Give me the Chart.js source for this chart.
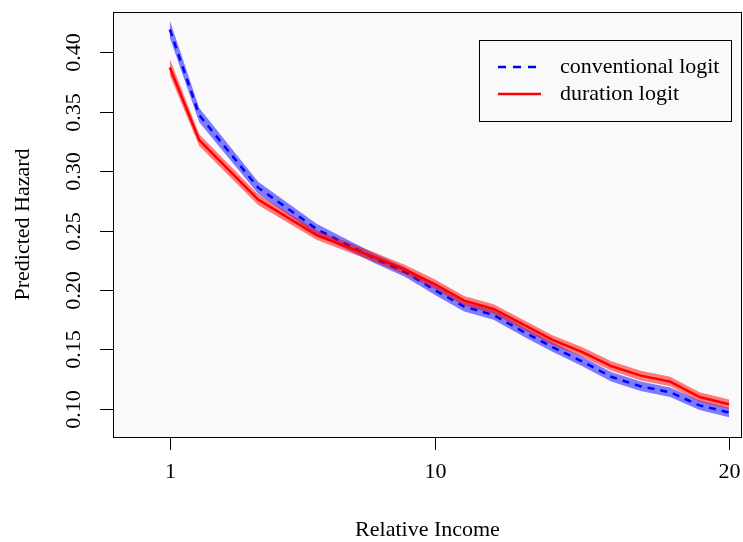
<!DOCTYPE html>
<html>
<head>
<meta charset="utf-8">
<script src="https://cdn.jsdelivr.net/npm/chart.js@4/dist/chart.umd.min.js"></script>
<style>
  html, body { margin: 0; padding: 0; background: #fff; }
  #wrap { width: 743px; height: 542px; }
</style>
</head>
<body>
<div id="wrap"><canvas id="hazardChart"></canvas></div>
<script>
// relative income values where the curves were evaluated
const incomeX = [1, 2, 4, 6, 8, 9, 10, 11, 12, 13, 14, 15, 16, 17, 18, 19, 20];

// conventional logit (blue, dashed) with band
const convFit  = [0.419, 0.347, 0.286, 0.251, 0.226, 0.215, 0.200, 0.186, 0.179, 0.165, 0.152, 0.140, 0.127, 0.119, 0.114, 0.103, 0.097];
const convLow  = [0.412, 0.341, 0.281, 0.2465, 0.222, 0.211, 0.196, 0.182, 0.175, 0.161, 0.148, 0.136, 0.123, 0.115, 0.110, 0.099, 0.093];
const convHigh = [0.4265, 0.353, 0.291, 0.2555, 0.230, 0.219, 0.204, 0.190, 0.183, 0.169, 0.156, 0.144, 0.131, 0.123, 0.118, 0.107, 0.101];

// duration logit (red, solid) with band
const durFit  = [0.387, 0.326, 0.276, 0.246, 0.227, 0.217, 0.205, 0.191, 0.184, 0.171, 0.158, 0.148, 0.136, 0.128, 0.123, 0.110, 0.104];
const durLow  = [0.3805, 0.321, 0.2715, 0.242, 0.223, 0.213, 0.201, 0.187, 0.180, 0.167, 0.154, 0.144, 0.132, 0.124, 0.119, 0.106, 0.100];
const durHigh = [0.3945, 0.331, 0.2805, 0.250, 0.231, 0.221, 0.209, 0.195, 0.188, 0.175, 0.162, 0.152, 0.140, 0.132, 0.127, 0.114, 0.108];

const xTicks = [1, 10, 20];
const yTicks = [0.10, 0.15, 0.20, 0.25, 0.30, 0.35, 0.40];
const legendLabels = ["conventional logit", "duration logit"];

const FONT = "22px 'Liberation Serif', 'DejaVu Serif', serif";

function pts(ys) {
  return incomeX.map((x, i) => ({ x: x, y: ys[i] }));
}

// draws box, axes, titles and legend the R way
const rStylePlugin = {
  id: "rStyle",
  beforeDraw(chart) {
    const { ctx, chartArea: a } = chart;
    ctx.save();
    ctx.fillStyle = "#fff";
    ctx.fillRect(0, 0, chart.width, chart.height);
    ctx.fillStyle = "#f9f9f9";
    ctx.fillRect(a.left, a.top, a.right - a.left, a.bottom - a.top);
    ctx.restore();
  },
  afterDraw(chart) {
    const { ctx, chartArea: a } = chart;
    const xs = chart.scales.x, ys = chart.scales.y;
    ctx.save();
    ctx.strokeStyle = "#000";
    ctx.lineWidth = 1;
    ctx.strokeRect(a.left + 0.5, a.top + 0.5, a.right - a.left - 1, a.bottom - a.top);

    ctx.fillStyle = "#000";
    ctx.font = FONT;

    // x ticks
    ctx.textAlign = "center";
    ctx.textBaseline = "middle";
    xTicks.forEach(v => {
      const px = Math.round(xs.getPixelForValue(v)) + 0.5;
      ctx.beginPath();
      ctx.moveTo(px, a.bottom);
      ctx.lineTo(px, a.bottom + 13);
      ctx.stroke();
      ctx.fillText(String(v), px, a.bottom + 35);
    });

    // y ticks, labels rotated like R
    yTicks.forEach(v => {
      const py = Math.round(ys.getPixelForValue(v)) + 0.5;
      ctx.beginPath();
      ctx.moveTo(a.left - 13, py);
      ctx.lineTo(a.left, py);
      ctx.stroke();
      ctx.save();
      ctx.translate(a.left - 39, py);
      ctx.rotate(-Math.PI / 2);
      ctx.fillText(v.toFixed(2), 0, 0);
      ctx.restore();
    });

    // axis titles
    ctx.fillText("Relative Income", (a.left + a.right) / 2, 530);
    ctx.save();
    ctx.translate(23, (a.top + a.bottom) / 2);
    ctx.rotate(-Math.PI / 2);
    ctx.fillText("Predicted Hazard", 0, 0);
    ctx.restore();

    // legend
    const bx = 479.5, by = 40.5, bw = 252, bh = 81;
    ctx.fillStyle = "#f9f9f9";
    ctx.fillRect(bx, by, bw, bh);
    ctx.strokeRect(bx, by, bw, bh);
    const rows = [
      { y: 67, color: "#0000ff", dash: [8, 7] },
      { y: 94, color: "#ff0000", dash: [] }
    ];
    rows.forEach((r, i) => {
      ctx.strokeStyle = r.color;
      ctx.lineWidth = 2.5;
      ctx.setLineDash(r.dash);
      ctx.beginPath();
      ctx.moveTo(498, r.y);
      ctx.lineTo(541, r.y);
      ctx.stroke();
      ctx.setLineDash([]);
      ctx.fillStyle = "#000";
      ctx.textAlign = "left";
      ctx.fillText(legendLabels[i], 560, r.y);
    });
    ctx.restore();
  }
};

const bandStyle = { borderWidth: 0, pointRadius: 0, tension: 0 };

new Chart(document.getElementById("hazardChart"), {
  type: "line",
  data: {
    datasets: [
      // index order is reversed when drawn: blue band, blue line, red band, red line
      { label: legendLabels[1], data: pts(durFit), borderColor: "#ff0000", borderWidth: 2.5,
        pointRadius: 0, fill: false, tension: 0 },
      { data: pts(durHigh), ...bandStyle, fill: "+1", backgroundColor: "rgba(255,0,0,0.5)" },
      { data: pts(durLow), ...bandStyle, fill: false },
      { label: legendLabels[0], data: pts(convFit), borderColor: "#0000ff", borderWidth: 2.5,
        borderDash: [7, 6], pointRadius: 0, fill: false, tension: 0 },
      { data: pts(convHigh), ...bandStyle, fill: "+1", backgroundColor: "rgba(0,0,255,0.5)" },
      { data: pts(convLow), ...bandStyle, fill: false }
    ]
  },
  options: {
    responsive: true,
    maintainAspectRatio: false,
    animation: false,
    layout: { padding: { left: 113, top: 12, right: 1, bottom: 105 } },
    scales: {
      x: { type: "linear", min: -0.93, max: 20.44, display: false },
      y: { type: "linear", min: 0.0764, max: 0.4337, display: false }
    },
    plugins: {
      legend: { display: false },
      tooltip: { enabled: false },
      filler: { drawTime: "beforeDatasetDraw" }
    }
  },
  plugins: [rStylePlugin]
});
</script>
</body>
</html>
